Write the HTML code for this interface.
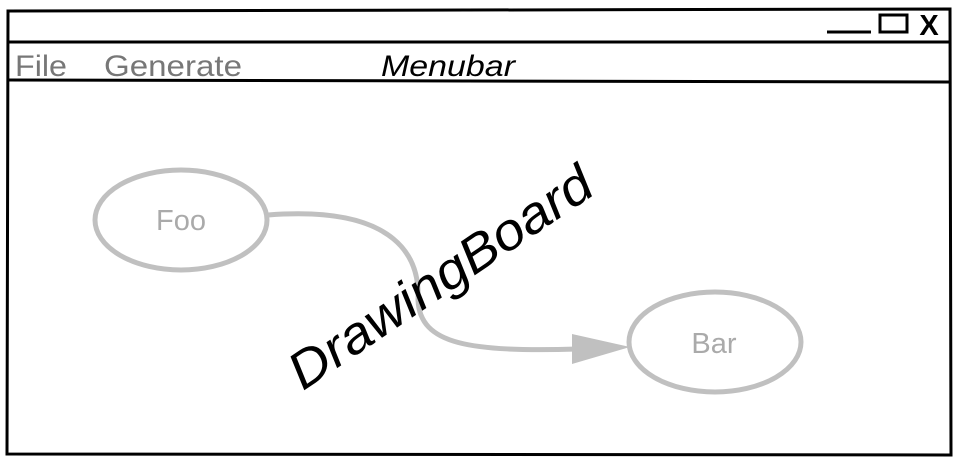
<!DOCTYPE html>
<html><head><meta charset="utf-8"><style>
html,body{margin:0;padding:0;background:#fff;width:957px;height:459px;overflow:hidden}
</style></head><body>
<svg width="957" height="459" viewBox="0 0 957 459" xmlns="http://www.w3.org/2000/svg" font-family="Liberation Sans, sans-serif">
<path d="M8 11 L950 9 L951 455 L7 454 Z" fill="#fff" stroke="#000" stroke-width="3"/>
<line x1="7" y1="42" x2="950" y2="42" stroke="#000" stroke-width="3"/>
<line x1="7" y1="80" x2="950" y2="82" stroke="#000" stroke-width="3"/>
<line x1="827" y1="32" x2="871" y2="32" stroke="#000" stroke-width="3"/>
<rect x="880" y="15" width="27" height="17" fill="none" stroke="#000" stroke-width="3"/>
<text x="929" y="35" font-size="29" font-weight="bold" text-anchor="middle">X</text>
<text x="15" y="76" font-size="30" fill="#777" textLength="52" lengthAdjust="spacingAndGlyphs">File</text>
<text x="104" y="76" font-size="30" fill="#777" textLength="138" lengthAdjust="spacingAndGlyphs">Generate</text>
<text x="381" y="76" font-size="30" font-style="italic" fill="#000" textLength="134" lengthAdjust="spacingAndGlyphs">Menubar</text>
<ellipse cx="181" cy="220" rx="86" ry="50" fill="none" stroke="#c0c0c0" stroke-width="5"/>
<text x="181" y="230" font-size="29" fill="#aaa" text-anchor="middle">Foo</text>
<ellipse cx="715" cy="342" rx="86" ry="50" fill="none" stroke="#c0c0c0" stroke-width="5"/>
<text x="714" y="353" font-size="29" fill="#aaa" text-anchor="middle">Bar</text>
<path d="M268 215 C400 205 420 260 418 300 C420 345 470 352 578 349" fill="none" stroke="#c0c0c0" stroke-width="5"/>
<polygon points="572,334 630,347 572,364" fill="#c0c0c0"/>
<text x="0" y="0" font-size="52" font-style="italic" fill="#000" text-anchor="middle" textLength="355" lengthAdjust="spacingAndGlyphs" transform="translate(450,292) rotate(-34)">DrawingBoard</text>
</svg>
</body></html>
